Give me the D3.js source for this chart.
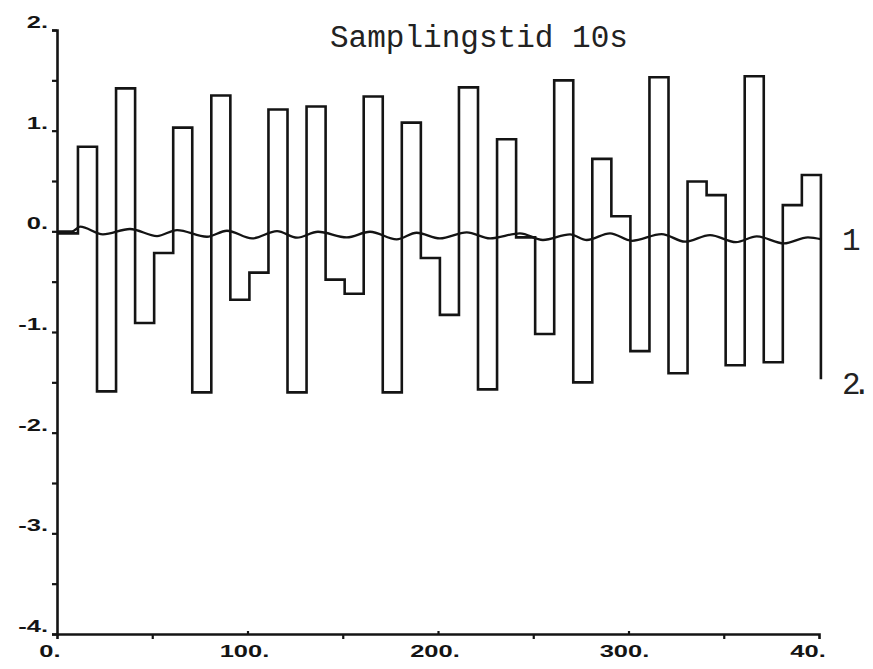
<!DOCTYPE html>
<html><head><meta charset="utf-8">
<script src="https://cdn.jsdelivr.net/npm/d3@7"></script>
<style>
html,body{margin:0;padding:0;background:#fff;}
svg{display:block;}
</style></head>
<body>
<svg id="chart" width="873" height="669"></svg>
<script>
// Data
const title = "Samplingstid 10s";
const xTickValues = [0, 100, 200, 300, 400];
const xTickLabels = ["0.", "100.", "200.", "300.", "40."];
const xMinorTicks = [50, 150, 250, 350];
const yTickValues = [2, 1, 0, -1, -2, -3, -4];
const yTickLabels = ["2.", "1.", "0.", "-1.", "-2.", "-3.", "-4."];
const yMinorTicks = [1.5, 0.5, -0.5, -1.5, -2.5, -3.5];

// Series 2: piecewise constant input (sampling 10 s)
const stepTimes = [0, 11, 21, 31, 41, 51, 61, 71, 81, 91, 101, 111, 121, 131, 141, 151, 161, 171, 181, 191,
  201, 211, 221, 231, 241, 251, 261, 271, 281, 291, 301, 311, 321, 331, 341, 351, 361, 371, 381, 391, 401];
const stepValues = [-0.02, 0.84, -1.59, 1.42, -0.91, -0.215, 1.03, -1.60, 1.35, -0.68, -0.41, 1.21, -1.60, 1.24,
  -0.48, -0.62, 1.34, -1.60, 1.08, -0.265, -0.83, 1.43, -1.57, 0.915, -0.06, -1.02, 1.50, -1.50, 0.72, 0.15,
  -1.19, 1.53, -1.41, 0.495, 0.36, -1.33, 1.54, -1.30, 0.26, 0.56, -1.47];

// Series 1: slow output (wavy line near zero)
const outTimes = [0, 7.9, 12.1, 24.1, 38.3, 52.5, 63.0, 78.7, 89.2, 102.4, 115.5, 126.0, 137.0, 152.1, 164.3,
  178.3, 188.8, 201.0, 215.1, 227.3, 243.0, 255.1, 269.3, 278.1, 290.3, 301.8, 317.4, 329.7, 342.8, 356.4,
  367.3, 381.6, 394.2, 401.4];
const outValues = [0, 0, 0.046, -0.03, 0.023, -0.047, 0.013, -0.054, 0.006, -0.07, 0.003, -0.063, -0.004, -0.06,
  -0.004, -0.08, -0.014, -0.07, -0.01, -0.07, -0.02, -0.086, -0.03, -0.086, -0.02, -0.094, -0.027, -0.103,
  -0.037, -0.108, -0.05, -0.12, -0.06, -0.08];

const seriesLabels = ["1", "2."];

const svg = d3.select("#chart");
const ink = "#141414";

const x = d3.scaleLinear().domain([0, 400]).range([57, 819]);
const y = d3.scaleLinear().domain([-4, 2]).range([634, 30]);

// Axes
svg.append("g").attr("transform", `translate(${x(0)},0)`)
  .call(d3.axisLeft(y).tickValues(yTickValues.concat(yMinorTicks)).tickSize(5).tickFormat(""));
svg.append("g").attr("transform", `translate(0,${y(-4)})`)
  .call(d3.axisBottom(x).tickValues(xMinorTicks).tickSize(5).tickFormat(""));
svg.append("g").attr("transform", `translate(0,${y(-4)})`)
  .call(d3.axisTop(x).tickValues(xTickValues.slice(1, 4)).tickSize(3).tickFormat(""))
  .call(g => g.select(".domain").remove());

svg.selectAll(".domain").attr("stroke", ink).attr("stroke-width", 2.6);
svg.selectAll(".tick line").attr("stroke", ink).attr("stroke-width", 2.2);

const widen = sel => sel.each(function () {
  const len = this.getComputedTextLength();
  d3.select(this).attr("textLength", len * 1.5).attr("lengthAdjust", "spacingAndGlyphs");
});

// Y tick labels
svg.append("g").selectAll("text").data(yTickValues).join("text")
  .attr("x", x(0) - 9).attr("y", d => y(d) - 2)
  .attr("text-anchor", "end")
  .attr("font-family", "'Liberation Sans', Arial, sans-serif")
  .attr("font-weight", "bold").attr("font-size", 17).attr("fill", ink)
  .text((d, i) => yTickLabels[i])
  .call(widen);

// X tick labels
const xLabelShift = [-7, -3, -3, -4, -11];
svg.append("g").selectAll("text").data(xTickValues).join("text")
  .attr("x", (d, i) => x(d) + xLabelShift[i]).attr("y", y(-4) + 23)
  .attr("text-anchor", "middle")
  .attr("font-family", "'Liberation Sans', Arial, sans-serif")
  .attr("font-weight", "bold").attr("font-size", 17).attr("fill", ink)
  .text((d, i) => xTickLabels[i])
  .call(widen);

// Series 2 (step)
const stepData = stepTimes.map((t, i) => [t, stepValues[i]]);
svg.append("path").datum(stepData)
  .attr("fill", "none").attr("stroke", ink).attr("stroke-width", 2.6)
  .attr("stroke-linejoin", "miter")
  .attr("d", d3.line().x(d => x(d[0])).y(d => y(d[1])).curve(d3.curveStepAfter));

// Series 1 (wavy)
const outData = outTimes.map((t, i) => [t, outValues[i]]);
svg.append("path").datum(outData)
  .attr("fill", "none").attr("stroke", ink).attr("stroke-width", 2.3)
  .attr("d", d3.line().x(d => x(d[0])).y(d => y(d[1])).curve(d3.curveMonotoneX));

// Title
svg.append("text").attr("x", 330).attr("y", 47)
  .attr("font-family", "'Liberation Mono', 'Courier New', monospace")
  .attr("font-size", 31).attr("fill", "#222")
  .attr("textLength", 298).attr("lengthAdjust", "spacingAndGlyphs")
  .text(title);

// Series labels
svg.append("text").attr("x", 842).attr("y", y(outValues[outValues.length - 1]) + 11)
  .attr("font-family", "'Liberation Mono', 'Courier New', monospace")
  .attr("font-size", 31).attr("fill", "#222").text(seriesLabels[0]);
svg.append("text").attr("x", 842).attr("y", y(stepValues[stepValues.length - 1]) + 15)
  .attr("font-family", "'Liberation Mono', 'Courier New', monospace")
  .attr("font-size", 31).attr("letter-spacing", -8).attr("fill", "#222")
  .text(seriesLabels[1]);
</script>
</body></html>
